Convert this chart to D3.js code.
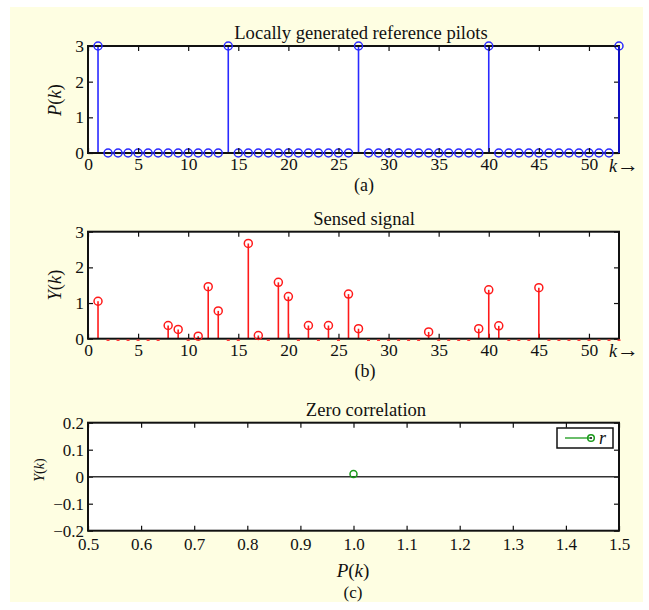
<!DOCTYPE html>
<html>
<head>
<meta charset="utf-8">
<script src="https://cdn.jsdelivr.net/npm/d3@7/dist/d3.min.js"></script>
<style>
  body { margin: 0; background: #fff; }
  svg text { font-family: "Liberation Serif", "DejaVu Serif", serif; fill: #111; }
</style>
</head>
<body>
<div id="chart"></div>
<script>
// k index for panels (a) and (b)
var kIndex = d3.range(1, 54);

// P(k): locally generated reference pilots
var pilotValues = [3, 0, 0, 0, 0, 0, 0, 0, 0, 0, 0, 0, 0, 3, 0, 0, 0, 0, 0, 0, 0, 0, 0, 0, 0, 0,
                   3, 0, 0, 0, 0, 0, 0, 0, 0, 0, 0, 0, 0, 3, 0, 0, 0, 0, 0, 0, 0, 0, 0, 0, 0, 0, 3];

// Y(k): sensed signal
var sensedValues = [1.05, 0, 0, 0, 0, 0, 0, 0.37, 0.26, 0, 0.07, 1.46, 0.78, 0, 0, 2.67, 0.09, 0,
                    1.58, 1.18, 0, 0.37, 0, 0.37, 0, 1.25, 0.28, 0, 0, 0, 0, 0, 0, 0.19, 0, 0, 0, 0,
                    0.28, 1.37, 0.36, 0, 0, 0, 1.43, 0, 0, 0, 0, 0, 0, 0, 0];

// panel (c): zero correlation
var corrPoint = [{ x: 1.0, y: 0.01 }];

var kTicks = [0, 5, 10, 15, 20, 25, 30, 35, 40, 45, 50];
var abTicksY = [0, 1, 2, 3];
var cTicksX = [0.5, 0.6, 0.7, 0.8, 0.9, 1.0, 1.1, 1.2, 1.3, 1.4, 1.5];
var cTicksY = [-0.2, -0.1, 0, 0.1, 0.2];

var W = 649, H = 610;
var svg = d3.select('#chart').append('svg').attr('width', W).attr('height', H);

svg.append('rect').attr('x', 10).attr('y', 7).attr('width', 633).attr('height', 595)
    .attr('fill', '#fefee2');

var left = 88, right = 619;

function panel(top, bottom, xDomain, yDomain, xTicks, yTicks, xFmt, yFmt, fs, xPad) {
    var g = svg.append('g');
    var x = d3.scaleLinear().domain(xDomain).range([left, right]);
    var y = d3.scaleLinear().domain(yDomain).range([bottom, top]);
    g.append('rect').attr('x', left).attr('y', top).attr('width', right - left)
        .attr('height', bottom - top).attr('fill', '#fff');

    var ax = g.append('g').attr('class', 'axes');
    ax.append('g').attr('transform', 'translate(0,' + bottom + ')')
        .call(d3.axisBottom(x).tickValues(xTicks).tickFormat(xFmt).tickSizeInner(-5).tickSizeOuter(0).tickPadding(xPad));
    ax.append('g').attr('transform', 'translate(0,' + top + ')')
        .call(d3.axisTop(x).tickValues(xTicks).tickFormat('').tickSizeInner(-5).tickSizeOuter(0));
    ax.append('g').attr('transform', 'translate(' + left + ',0)')
        .call(d3.axisLeft(y).tickValues(yTicks).tickFormat(yFmt).tickSizeInner(-5).tickSizeOuter(0).tickPadding(4));
    ax.append('g').attr('transform', 'translate(' + right + ',0)')
        .call(d3.axisRight(y).tickValues(yTicks).tickFormat('').tickSizeInner(-5).tickSizeOuter(0));
    ax.selectAll('.domain').remove();
    ax.selectAll('.tick line').attr('stroke', '#111').attr('stroke-width', 1.2);
    ax.selectAll('.tick text').attr('fill', '#111')
        .style('font-family', '"Liberation Serif", serif').style('font-size', fs + 'px');
    return { g: g, x: x, y: y, top: top, bottom: bottom, ax: ax };
}

function frame(p) {
    p.g.append('rect').attr('x', left).attr('y', p.top).attr('width', right - left)
        .attr('height', p.bottom - p.top).attr('fill', 'none')
        .attr('stroke', '#111').attr('stroke-width', 2);
}

function stems(p, values, color) {
    var data = kIndex.map(function (k, i) { return { k: k, v: values[i] }; });
    var nz = data.filter(function (d) { return d.v > 0; });
    var zs = data.filter(function (d) { return d.v === 0; });
    p.g.selectAll('line.stem').data(nz).enter().append('line')
        .attr('x1', function (d) { return p.x(d.k); }).attr('x2', function (d) { return p.x(d.k); })
        .attr('y1', p.y(0)).attr('y2', function (d) { return p.y(d.v); })
        .attr('stroke', color).attr('stroke-width', 1.6);
    return { data: data, nz: nz, zs: zs };
}

// ---- panel (a)
var pa = panel(46, 153, [0, 53], [0, 3], kTicks, abTicksY, d3.format('d'), d3.format('d'), 17.5, 5);
var sa = stems(pa, pilotValues, '#2a2aff');
frame(pa);
pa.g.selectAll('circle.m').data(sa.data).enter().append('circle')
    .attr('cx', function (d) { return pa.x(d.k); }).attr('cy', function (d) { return pa.y(d.v); })
    .attr('r', 4).attr('fill', 'none').attr('stroke', '#2a2aff').attr('stroke-width', 1.5);
// ticks show through the markers on the baseline
pa.ax.raise();
svg.append('line').attr('x1', right).attr('x2', right).attr('y1', pa.y(0)).attr('y2', pa.y(3))
    .attr('stroke', '#1010c0').attr('stroke-width', 2);

svg.append('text').attr('x', 361).attr('y', 39).attr('text-anchor', 'middle')
    .style('font-size', '18.6px').text('Locally generated reference pilots');
svg.append('text').attr('x', 364).attr('y', 191).attr('text-anchor', 'middle')
    .style('font-size', '18px').text('(a)');

// ---- panel (b)
var pb = panel(231.7, 338.7, [0, 53], [0, 3], kTicks, abTicksY, d3.format('d'), d3.format('d'), 17.5, 5);
var sb = stems(pb, sensedValues, '#ff1a1a');
frame(pb);
pb.g.selectAll('line.zero').data(sb.zs).enter().append('line')
    .attr('x1', function (d) { return pb.x(d.k) - 1.5; }).attr('x2', function (d) { return pb.x(d.k) + 1.5; })
    .attr('y1', pb.y(0) + 1.5).attr('y2', pb.y(0) + 1.5)
    .attr('stroke', '#ff3030').attr('stroke-width', 1.5);
pb.g.selectAll('circle.m').data(sb.nz).enter().append('circle')
    .attr('cx', function (d) { return pb.x(d.k); }).attr('cy', function (d) { return pb.y(d.v); })
    .attr('r', 4).attr('fill', 'none').attr('stroke', '#ff1a1a').attr('stroke-width', 1.5);

svg.append('text').attr('x', 364).attr('y', 225).attr('text-anchor', 'middle')
    .style('font-size', '18.6px').text('Sensed signal');
svg.append('text').attr('x', 365).attr('y', 377).attr('text-anchor', 'middle')
    .style('font-size', '18px').text('(b)');

// k-> labels and y labels for (a), (b)
[172, 357].forEach(function (yy) {
    var t = svg.append('text').attr('x', 609).attr('y', yy).style('font-size', '18px');
    t.append('tspan').style('font-style', 'italic').text('k');
    t.append('tspan').style('font-size', '22px').text('\u2192');
});

function yLabel(x, y, letter, size) {
    var t = svg.append('text').attr('transform', 'translate(' + x + ',' + y + ') rotate(-90)')
        .attr('text-anchor', 'middle').style('font-size', size + 'px');
    t.append('tspan').style('font-style', 'italic').text(letter);
    t.append('tspan').text('(');
    t.append('tspan').style('font-style', 'italic').text('k');
    t.append('tspan').text(')');
}
yLabel(61, 100, 'P', 18.5);
yLabel(61, 285, 'Y', 18.5);

// ---- panel (c)
var pc = panel(422.7, 530.7, [0.5, 1.5], [-0.2, 0.2], cTicksX, cTicksY, d3.format('.1f'),
    function (d) { return d === 0 ? '0' : d3.format('.1f')(d).replace('-', '\u2212'); }, 17, 7);
pc.g.append('line').attr('x1', left).attr('x2', right).attr('y1', pc.y(0)).attr('y2', pc.y(0))
    .attr('stroke', '#333').attr('stroke-width', 1.5);
frame(pc);
pc.g.selectAll('circle.m').data(corrPoint).enter().append('circle')
    .attr('cx', function (d) { return pc.x(d.x); }).attr('cy', function (d) { return pc.y(d.y); })
    .attr('r', 3.5).attr('fill', 'none').attr('stroke', '#1a9a1a').attr('stroke-width', 1.5);

// legend
var lg = svg.append('g');
lg.append('rect').attr('x', 557).attr('y', 428).attr('width', 56).attr('height', 20)
    .attr('fill', '#fff').attr('stroke', '#111').attr('stroke-width', 1.5);
lg.append('line').attr('x1', 565).attr('x2', 590).attr('y1', 438).attr('y2', 438)
    .attr('stroke', '#1a9a1a').attr('stroke-width', 1.3);
lg.append('circle').attr('cx', 591).attr('cy', 438).attr('r', 3.3).attr('fill', 'none')
    .attr('stroke', '#1a9a1a').attr('stroke-width', 1.5);
lg.append('circle').attr('cx', 591).attr('cy', 438).attr('r', 1.1).attr('fill', '#111');
lg.append('text').attr('x', 599).attr('y', 444).style('font-size', '18px')
    .style('font-style', 'italic').text('r');

svg.append('text').attr('x', 366).attr('y', 416).attr('text-anchor', 'middle')
    .style('font-size', '18.6px').text('Zero correlation');
yLabel(44, 470, 'Y', 14);
var px = svg.append('text').attr('x', 353).attr('y', 577).attr('text-anchor', 'middle').style('font-size', '19px');
px.append('tspan').style('font-style', 'italic').text('P');
px.append('tspan').text('(');
px.append('tspan').style('font-style', 'italic').text('k');
px.append('tspan').text(')');
svg.append('text').attr('x', 353).attr('y', 598).attr('text-anchor', 'middle')
    .style('font-size', '17px').text('(c)');
</script>
</body>
</html>
